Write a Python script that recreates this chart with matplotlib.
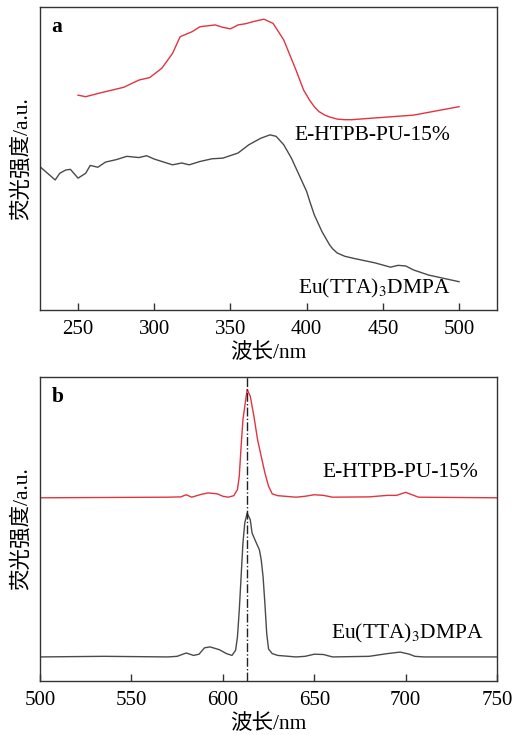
import numpy as np
import matplotlib
matplotlib.use('Agg')
import matplotlib.pyplot as plt

plt.rcParams['font.family'] = ['Liberation Serif', 'Noto Sans CJK SC']
plt.rcParams['mathtext.fontset'] = 'stix'

# (a) excitation spectra (arbitrary units)
exc_red_nm = [250, 255, 265, 280, 290, 297, 305, 312, 317, 325, 330, 340, 345, 350, 355,
              360, 365, 372, 378, 385, 393, 398, 402, 405, 408, 412, 415, 420, 425, 430,
              440, 470, 500]
exc_red_y = [71.0, 70.5, 71.8, 73.6, 76.0, 76.8, 79.9, 84.8, 90.3, 92.0, 93.6, 94.2, 93.4,
             92.9, 94.2, 94.6, 95.3, 96.1, 94.7, 89.2, 79.3, 72.7, 69.3, 67.2, 65.6,
             64.4, 63.8, 63.1, 62.9, 62.9, 63.3, 64.4, 67.2]
exc_gray_nm = [225, 230, 235, 238, 242, 245, 250, 255, 258, 263, 268, 275, 282, 290, 295,
               300, 305, 312, 318, 323, 330, 338, 345, 355, 362, 370, 376, 380, 385, 390,
               395, 400, 402, 405, 410, 415, 417, 420, 425, 430, 445, 455, 460, 465, 470,
               480, 490, 500]
exc_gray_y = [47.4, 45.2, 43.0, 45.2, 46.3, 46.5, 43.6, 45.2, 47.8, 47.2, 48.9, 49.7,
              50.8, 50.4, 51.0, 49.9, 49.1, 48.0, 48.6, 48.0, 49.1, 50.0, 50.2, 51.9,
              54.6, 56.8, 57.9, 57.4, 54.6, 50.2, 44.7, 39.2, 36.0, 31.5, 26.0, 21.6,
              20.3, 18.9, 17.8, 17.2, 15.6, 14.2, 14.8, 14.6, 13.3, 11.6, 10.5, 9.4]

# (b) emission spectra
em_red_nm = [500, 570, 577, 580, 583, 588, 592, 597, 600, 603, 606, 608, 609, 610, 611,
             613.3, 615, 617, 619, 621, 623, 625, 627, 630, 640, 645, 650, 655, 660, 680,
             690, 695, 700, 703, 707, 750]
em_red_y = [60.2, 60.4, 60.5, 61.2, 60.4, 61.3, 61.8, 61.5, 60.7, 60.4, 60.9, 62.9,
            67.3, 77.1, 85.9, 95.8, 93.6, 87.0, 79.3, 73.8, 68.4, 64.0, 61.5, 60.9,
            60.4, 60.7, 61.2, 61.0, 60.4, 60.5, 61.0, 61.0, 62.0, 61.3, 60.4, 60.2]
em_gray_nm = [500, 535, 570, 575, 580, 584, 587, 590, 593, 598, 602, 605, 607, 608, 609,
              610, 611, 612, 613.3, 615, 616, 618, 620, 621, 622, 623, 624, 625, 627,
              630, 640, 645, 650, 655, 660, 680, 690, 697, 702, 705, 710, 750]
em_gray_y = [7.9, 8.1, 7.9, 8.1, 9.2, 8.4, 8.8, 10.9, 11.2, 10.3, 9.0, 8.4, 10.1, 14.5,
             23.3, 34.3, 45.3, 51.9, 55.2, 53.0, 48.6, 45.8, 43.1, 39.8, 34.3, 25.5,
             15.6, 10.5, 9.0, 8.4, 7.9, 8.1, 8.8, 8.7, 7.9, 8.1, 9.0, 9.5, 8.8, 8.1,
             7.9, 7.9]
peak_nm = 613.3

red = '#e03540'
gray = '#4a4a4a'
fs = 15.5

fig = plt.figure(figsize=(5.12, 7.35), dpi=100)
ax1 = fig.add_axes([0.078, 0.578, 0.893, 0.412])
ax2 = fig.add_axes([0.078, 0.0735, 0.893, 0.414])

ax1.plot(exc_red_nm, exc_red_y, color=red, lw=1.0)
ax1.plot(exc_gray_nm, exc_gray_y, color=gray, lw=1.0)
ax1.set_xlim(225, 525)
ax1.set_ylim(0, 100)
ax1.set_xticks([250, 300, 350, 400, 450, 500])
ax1.text(392, 57.8, 'E-HTPB-PU-15%', fontsize=fs, va='center')
ax1.text(394.5, 7.2, 'Eu(TTA)$_3$DMPA', fontsize=fs, va='center')
ax1.text(232.5, 93.6, 'a', fontsize=fs, fontweight='bold', va='center')

ax2.plot(em_red_nm, em_red_y, color=red, lw=1.0)
ax2.plot(em_gray_nm, em_gray_y, color=gray, lw=1.0)
ax2.axvline(peak_nm, color='#222222', lw=1.0, ls='-.')
ax2.set_xlim(500, 750)
ax2.set_ylim(0, 100)
ax2.set_xticks([500, 550, 600, 650, 700, 750])
ax2.text(654.4, 68.4, 'E-HTPB-PU-15%', fontsize=fs, va='center')
ax2.text(659, 15.6, 'Eu(TTA)$_3$DMPA', fontsize=fs, va='center')
ax2.text(506.4, 93.4, 'b', fontsize=fs, fontweight='bold', va='center')

for ax in (ax1, ax2):
    ax.set_yticks([])
    ax.tick_params(axis='x', direction='in', length=5, width=1, labelsize=15, pad=7,
                   colors='#333333', labelcolor='black')
    for s in ax.spines.values():
        s.set_color('#333333')
        s.set_linewidth(1.0)
    ax.set_xlabel('波长/nm', fontsize=fs, labelpad=3)
    ax.set_ylabel('荧光强度/a.u.', fontsize=fs, labelpad=6)

fig.savefig('out.png', dpi=100)
